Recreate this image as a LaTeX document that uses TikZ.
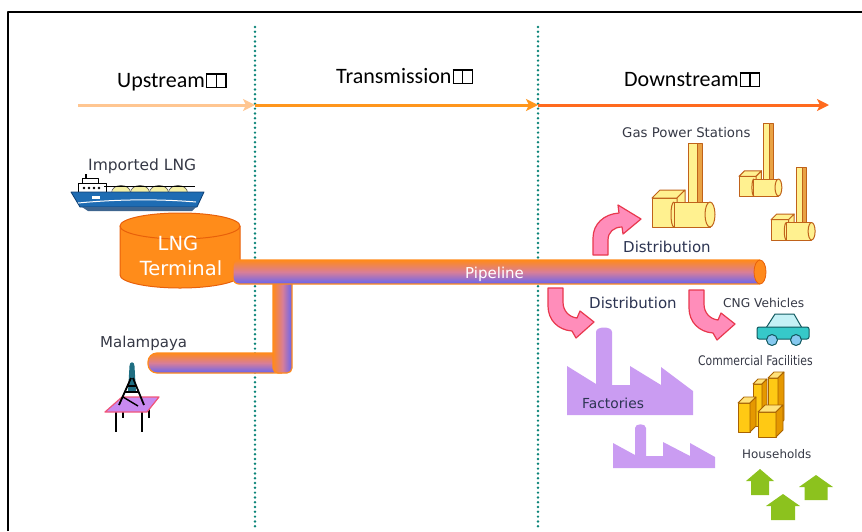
\documentclass[tikz,border=0pt]{standalone}
\usepackage{fontspec}
\setmainfont{DejaVu Sans}
\newfontfamily\calfont{Carlito}
\usetikzlibrary{arrows.meta}

\definecolor{divteal}{HTML}{0B8478}
\definecolor{upcol}{HTML}{FFC691}
\definecolor{trcol}{HTML}{FF961C}
\definecolor{dncol}{HTML}{FF6A1E}
\definecolor{lblgray}{HTML}{353845}
\definecolor{lblnavy}{HTML}{2C3452}
\definecolor{termfill}{HTML}{FF8C1A}
\definecolor{termedge}{HTML}{E8600A}
\definecolor{pipeor}{HTML}{FF8A1C}
\definecolor{pipemid}{HTML}{D87E98}
\definecolor{pipebl}{HTML}{6464F2}
\definecolor{bendpink}{HTML}{FF8DBA}
\definecolor{bendred}{HTML}{E8384E}
\definecolor{factpurple}{HTML}{CA9CF2}
\definecolor{plantfill}{HTML}{FFF190}
\definecolor{plantedge}{HTML}{C0621A}
\definecolor{plantside}{HTML}{E9A244}
\definecolor{bldfront}{HTML}{FFC914}
\definecolor{bldside}{HTML}{E59800}
\definecolor{bldtop}{HTML}{FFE27A}
\definecolor{bldedge}{HTML}{A86200}
\definecolor{housegreen}{HTML}{8CC21E}
\definecolor{carbody}{HTML}{36C9C9}
\definecolor{carcab}{HTML}{C4F1F6}
\definecolor{carwheel}{HTML}{86C9F0}
\definecolor{caredge}{HTML}{10585E}
\definecolor{hullblue}{HTML}{1E6CB3}
\definecolor{hulldark}{HTML}{0E3E73}
\definecolor{domeyel}{HTML}{F4F0A6}
\definecolor{towerteal}{HTML}{1F6E82}
\definecolor{deckpink}{HTML}{F0567A}
\definecolor{deckviolet}{HTML}{C88AF0}

% two empty glyph boxes that follow each stage name
\newcommand\tofubox{\kern1pt{\fboxsep=0pt\fboxrule=1.2pt\fbox{\rule{0pt}{12.5pt}\kern8.5pt}\kern-1.2pt\fbox{\rule{0pt}{12.5pt}\kern8.5pt}}}

% gas power station: #1,#2 = lower left of the block, #3 = scale, #4 = stack height
\newcommand\powerplant[4]{%
  \begin{scope}[shift={(#1,#2)}, scale=#3]
    \filldraw[plant, fill=plantside] (45,-#4) rectangle (50,-20);
    \filldraw[plant] (36,-#4) rectangle (45,-20);
    \filldraw[plant] (0,0) rectangle (25,-29);
    \filldraw[plant] (0,-29) -- (8,-37) -- (33,-37) -- (25,-29) -- cycle;
    \filldraw[plant] (25,0) -- (25,-29) -- (33,-37) -- (33,-8) -- cycle;
    \filldraw[plant] (22,-25) -- (58,-25) -- (58,0) -- (22,0) -- cycle;
    \draw[plant, fill=none] (22,-25) .. controls (18,-25) and (18,0) .. (22,0);
    \filldraw[plant] (58,-12.5) ellipse [x radius=5, y radius=12.5];
  \end{scope}}

% office block: #1 left, #2 bottom, #3 width, #4 height, #5 depth
\newcommand\bldg[5]{%
  \filldraw[fill=bldfront, draw=bldedge, line width=0.8pt] (#1,#2) rectangle ({#1+#3},{#2-#4});
  \filldraw[fill=bldtop, draw=bldedge, line width=0.8pt] (#1,{#2-#4}) -- ({#1+#5},{#2-#4-#5}) -- ({#1+#3+#5},{#2-#4-#5}) -- ({#1+#3},{#2-#4}) -- cycle;
  \filldraw[fill=bldside, draw=bldedge, line width=0.8pt] ({#1+#3},#2) -- ({#1+#3},{#2-#4}) -- ({#1+#3+#5},{#2-#4-#5}) -- ({#1+#3+#5},{#2-#5}) -- cycle;}

% house: #1,#2 roof apex, #3 roof half width, #4 roof height, #5 body half width, #6 body height
\newcommand\house[6]{%
  \fill[housegreen] (#1,#2) -- ({#1+#3},{#2+#4}) -- ({#1+#5},{#2+#4}) -- ({#1+#5},{#2+#4+#6})
    -- ({#1-#5},{#2+#4+#6}) -- ({#1-#5},{#2+#4}) -- ({#1-#3},{#2+#4}) -- cycle;}

% dotted divider made of single dots: #1 = x
\newcommand\dotline[1]{%
  \foreach \dy in {27,31.8,...,531} \fill[divteal] (#1,\dy) circle [radius=1.35];}

\tikzset{
  frameline/.style={line width=2pt, black},
  flowarrow/.style={line width=3pt, -{Stealth[length=12pt,width=12pt,inset=3pt]}},
  stagelabel/.style={font=\calfont\fontsize{22}{26}\selectfont, inner sep=0pt, anchor=base west},
  lbl/.style={inner sep=0pt, anchor=base west, text=lblgray},
  pipeedge/.style={draw=pipeor, line width=1.2pt},
  bendfill/.style={fill=bendpink, draw=bendred, line width=1.2pt},
  plant/.style={fill=plantfill, draw=plantedge, line width=1pt},
  pics/bendarrow/.style={code={
    \filldraw[bendfill] (0,0) -- (0,18) .. controls (0,32) and (10,42) .. (24,43)
      -- (28,50) -- (46,34) -- (32,23) -- (29,30) .. controls (21,29) and (15,23) .. (15,14)
      -- (15,0) -- cycle;}}
}

\begin{document}
\begin{tikzpicture}[x=1pt, y=-1pt, line join=round]
\useasboundingbox (0,0) rectangle (862,531);

% frame
\draw[frameline] (8,531) -- (8,12) -- (862,12);

% stage dividers
\dotline{255}
\dotline{538}

% stage arrows
\coordinate (upS) at (78,105);
\coordinate (bdA) at (255,105);
\coordinate (bdB) at (538,105);
\coordinate (dnE) at (829,105);
\draw[flowarrow, upcol] (upS) -- (bdA);
\draw[flowarrow, trcol] (bdA) -- (bdB);
\draw[flowarrow, dncol] (bdB) -- (dnE);

% stage labels
\node[stagelabel] (upL) at (117,87) {Upstream\tofubox};
\node[stagelabel] (trL) at (336,83) {Transmission\tofubox};
\node[stagelabel] (dnL) at (624,86) {Downstream\tofubox};

% LNG carrier
\node[lbl, font=\fontsize{15.5}{18}\selectfont] (impL) at (88,170) {Imported LNG};
\draw[line width=1.5pt] (86,179) -- (86,174);
\filldraw[fill=white, draw=black, line width=0.8pt] (82,183) rectangle (98,178);
\filldraw[fill=white, draw=black, line width=0.8pt] (78,193) rectangle (106,183);
\foreach \wx in {84,89,94,99} \fill (\wx,188) circle [radius=1.3];
\foreach \dx in {121,140,159,178}
  \filldraw[fill=domeyel, draw=black!70, line width=0.6pt] ({\dx-9.5},193) .. controls ({\dx-9.5},183) and ({\dx+9.5},183) .. ({\dx+9.5},193) -- cycle;
\draw[line width=1pt] (104,186) -- (195,186);
\filldraw[fill=hullblue, draw=hulldark, line width=0.8pt] (71,192) -- (204,192) -- (197,207) -- (80,207) -- cycle;
\draw[white, line width=1pt] (78,203) .. controls (120,199) and (160,199) .. (196,202);
\fill[white] (92,196) rectangle (100,199);
\fill[hulldark!80!white] (82,207) -- (196,207) -- (192,211) -- (88,211) -- cycle;

% LNG terminal tank
\filldraw[fill=termfill, draw=termedge, line width=1pt] (120,226) -- (120,275)
  .. controls (120,282.2) and (146.9,288) .. (180,288)
  .. controls (213.1,288) and (240,282.2) .. (240,275) -- (240,226) -- cycle;
\filldraw[fill=termfill, draw=termedge, line width=1pt] (180,226) ellipse [x radius=60, y radius=13];
\node[inner sep=0pt, anchor=base, text=white, font=\fontsize{19.5}{22}\selectfont] (lngA) at (178,250) {LNG};
\node[inner sep=0pt, anchor=base, text=white, font=\fontsize{19.5}{22}\selectfont] (lngB) at (181,275) {Terminal};

% gas field pipeline
\shade[top color=pipeor, bottom color=pipebl, middle color=pipemid, rounded corners=9pt] (148,353) rectangle (282,373);
\draw[pipeedge, rounded corners=9pt] (282,353) -- (148,353) -- (148,373) -- (282,373);
\shade[left color=pipeor, right color=pipebl, middle color=pipemid, rounded corners=5pt] (273,276) rectangle (292,373);
\draw[pipeedge, rounded corners=5pt] (273,280) -- (273,373) -- (292,373) -- (292,280);

% trunk pipeline
\shade[top color=pipeor, bottom color=pipebl, middle color=pipemid, rounded corners=6pt] (233,260) rectangle (764,284);
\draw[pipeedge, rounded corners=6pt] (760,260) -- (233,260) -- (233,284) -- (760,284);
\filldraw[fill=pipeor, draw=termedge, line width=0.8pt] (760,272) ellipse [x radius=6, y radius=12];
\node[inner sep=0pt, anchor=base west, text=white, font=\fontsize{15}{18}\selectfont] (pipeL) at (465,278) {Pipeline};

% offshore platform
\node[lbl, font=\fontsize{15}{18}\selectfont] (malL) at (100,347) {Malampaya};
\draw[black, line width=2.4pt] (116,408) -- (116,432);
\draw[black, line width=2.4pt] (142,408) -- (142,432);
\draw[black, line width=1.6pt] (123,408) -- (123,418);
\draw[black, line width=1.6pt] (149,408) -- (149,418);
\filldraw[fill=deckviolet, draw=deckpink, line width=1.2pt] (122,397) -- (159,397) -- (147,412) -- (105,412) -- cycle;
\fill[towerteal] (129.5,366) .. controls (129.5,361) and (134.5,361) .. (134.5,366) -- (136,392) -- (128,392) -- cycle;
\draw[black, line width=1.8pt] (131,378) -- (119,405);
\draw[black, line width=1.8pt] (133,378) -- (144,405);
\draw[black, line width=1.4pt] (125,392) -- (139,392);
\draw[black, line width=1.4pt] (123,397) -- (138,406);
\draw[black, line width=1.4pt] (128,386) -- (136,386);

% distribution arrows
\pic (bendUp) at (0,0) {code={
  \filldraw[bendfill] (593,255) -- (593,238) .. controls (593,224) and (604,214) .. (619,213)
    -- (618,205) -- (641,219) -- (623,234) -- (622,227) .. controls (614,227) and (608,232) .. (608,240)
    -- (608,255) -- cycle;}};
\pic (bendA) at (548,288) {bendarrow};
\pic (bendB) at (689,290) {bendarrow};

\node[lbl, text=lblnavy, font=\fontsize{15}{18}\selectfont] (distA) at (623,252) {Distribution};
\node[lbl, text=lblnavy, font=\fontsize{15}{18}\selectfont] (distB) at (589,308) {Distribution};

% gas power stations
\node[lbl, font=\fontsize{13.3}{16}\selectfont] (gasL) at (622,137) {Gas Power Stations};
\powerplant{652}{227}{1}{84}
\powerplant{739}{196}{0.68}{107}
\powerplant{771}{240}{0.7}{103}

% factories
\fill[factpurple] (567,415) -- (567,366) -- (596,384) -- (596,332)
  .. controls (596,326) and (612,326) .. (612,332) -- (612,385) -- (630,385) -- (630,366)
  -- (661,385) -- (661,367) -- (693,391) -- (693,415) -- cycle;
\fill[factpurple] (613,468) -- (613,443) -- (635,455) -- (635,428)
  .. controls (635,423) and (646,423) .. (646,428) -- (646,456) -- (663,456) -- (663,442)
  -- (690,456) -- (690,443) -- (715,457) -- (715,468) -- cycle;
\node[lbl, text=lblnavy, font=\fontsize{13.8}{16}\selectfont] (factL) at (582,408) {Factories};

% CNG vehicle
\node[lbl, font=\fontsize{12.2}{14}\selectfont] (cngL) at (723,307) {CNG Vehicles};
\filldraw[fill=carcab, draw=caredge, line width=1pt] (766,328) -- (775,314) -- (794,314) -- (802,328) -- cycle;
\filldraw[fill=carbody, draw=caredge, line width=1pt, rounded corners=2pt] (757,327) rectangle (809,339);
\filldraw[fill=carwheel, draw=caredge, line width=1pt] (772,340) circle [radius=5.5];
\filldraw[fill=carwheel, draw=caredge, line width=1pt] (796,340) circle [radius=5.5];

% commercial facilities
\node[lbl, font=\fontsize{13.2}{16}\selectfont, xscale=0.82, transform shape] (comL) at (698,365) {Commercial Facilities};
\bldg{768}{426}{10}{48}{6}
\bldg{753}{426}{9}{42}{5}
\bldg{738}{432}{12}{29}{6}
\bldg{758}{437}{18}{25}{7}

% households
\node[lbl, font=\fontsize{11.9}{14}\selectfont] (houL) at (742,458) {Households};
\house{760}{469}{14}{12}{9}{14}
\house{816}{475}{17}{12}{11.5}{13}
\house{783}{494}{17}{12}{12}{14}

\end{tikzpicture}
\end{document}
